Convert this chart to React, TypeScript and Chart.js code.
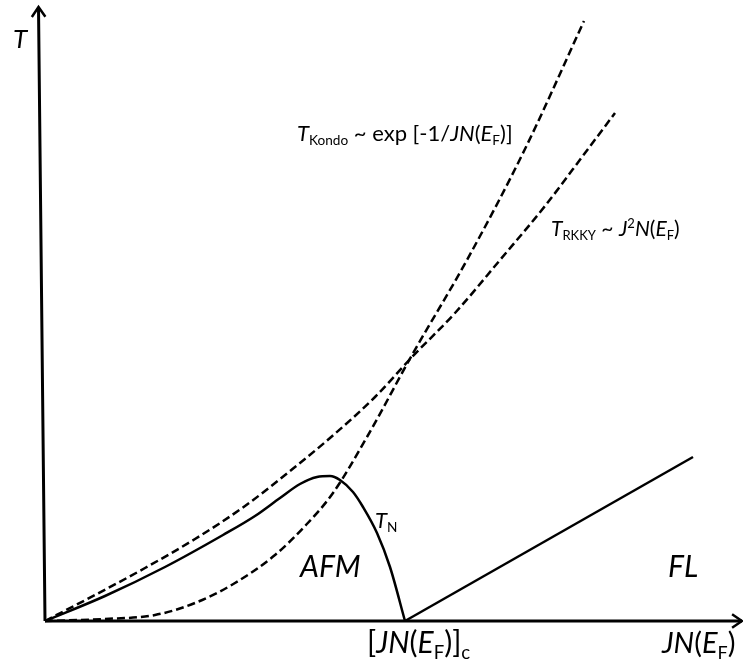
import React, { useEffect, useRef } from "react";
import { Chart, registerables } from "chart.js";

Chart.register(...registerables);

// Coupling strength JN(E_F) (arbitrary units) and temperature scales
const kondoX = [0, 0.6, 1.1, 1.5, 1.9, 2.3, 2.6, 2.88, 3.22, 3.67, 4.22, 4.8, 5.39];
const kondoY = [0, 0.02, 0.06, 0.18, 0.38, 0.66, 0.95, 1.28, 1.84, 2.66, 3.61, 4.72, 6.0];

const rkkyX = [0, 0.5, 1.0, 1.5, 2.0, 2.5, 2.85, 3.3, 3.67, 4.1, 4.55, 5.0, 5.4, 5.7];
const rkkyY = [0, 0.26, 0.53, 0.82, 1.15, 1.54, 1.83, 2.24, 2.64, 3.08, 3.61, 4.15, 4.68, 5.08];

const neelX = [0, 0.6, 1.2, 1.78, 2.1, 2.35, 2.55, 2.72, 2.85, 2.95, 3.08, 3.18, 3.32, 3.45, 3.6];
const neelY = [0, 0.25, 0.54, 0.86, 1.05, 1.23, 1.37, 1.44, 1.45, 1.41, 1.29, 1.14, 0.88, 0.54, 0];

const fermiX = [3.6, 6.48];
const fermiY = [0, 1.64];

// Axis extents (data units)
const X_MIN = -0.45;
const X_MAX = 6.98;
const Y_MIN = -0.5;
const Y_MAX = 6.21;
const X_ARROW = 6.97;
const Y_ARROW = 6.14;
const Y_ARROW_LEAN = -0.065;

const FONT = "Lato, 'Open Sans', sans-serif";

type Seg = { t: string; i?: boolean; sub?: boolean; sup?: boolean };
type Label = { x: number; y: number; size: number; segs: Seg[] };

const labels: Label[] = [
  { x: -0.32, y: 5.73, size: 26, segs: [{ t: "T", i: true }] },
  {
    x: 2.52,
    y: 4.8,
    size: 22,
    segs: [
      { t: "T", i: true },
      { t: "Kondo", sub: true },
      { t: " ~ exp [-1/" },
      { t: "JN", i: true },
      { t: "(" },
      { t: "E", i: true },
      { t: "F", sub: true },
      { t: ")]" },
    ],
  },
  {
    x: 5.06,
    y: 3.85,
    size: 21,
    segs: [
      { t: "T", i: true },
      { t: "RKKY", sub: true },
      { t: " ~ " },
      { t: "J", i: true },
      { t: "2", sup: true },
      { t: "N", i: true },
      { t: "(" },
      { t: "E", i: true },
      { t: "F", sub: true },
      { t: ")" },
    ],
  },
  { x: 3.3, y: 0.93, size: 22, segs: [{ t: "T", i: true }, { t: "N", sub: true }] },
  { x: 2.55, y: 0.44, size: 30, segs: [{ t: "AFM", i: true }] },
  { x: 6.23, y: 0.44, size: 30, segs: [{ t: "FL", i: true }] },
  {
    x: 3.22,
    y: -0.32,
    size: 30,
    segs: [
      { t: "[" },
      { t: "JN", i: true },
      { t: "(" },
      { t: "E", i: true },
      { t: "F", sub: true },
      { t: ")]" },
      { t: "c", sub: true },
    ],
  },
  {
    x: 6.17,
    y: -0.32,
    size: 29,
    segs: [
      { t: "JN", i: true },
      { t: "(" },
      { t: "E", i: true },
      { t: "F", sub: true },
      { t: ")" },
    ],
  },
];

const pts = (xs: number[], ys: number[]) => xs.map((x, k) => ({ x, y: ys[k] }));

function drawRich(ctx: CanvasRenderingContext2D, segs: Seg[], x: number, y: number, size: number) {
  let cx = x;
  for (const s of segs) {
    const fs = s.sub || s.sup ? size * 0.62 : size;
    ctx.font = `${s.i ? "italic " : ""}${fs}px ${FONT}`;
    const dy = s.sub ? size * 0.2 : s.sup ? -size * 0.36 : 0;
    ctx.fillText(s.t, cx, y + dy);
    cx += ctx.measureText(s.t).width;
  }
}

function arrowHead(ctx: CanvasRenderingContext2D, tx: number, ty: number, ang: number, len: number) {
  const spread = 0.6;
  ctx.beginPath();
  ctx.moveTo(tx - len * Math.cos(ang - spread), ty - len * Math.sin(ang - spread));
  ctx.lineTo(tx, ty);
  ctx.lineTo(tx - len * Math.cos(ang + spread), ty - len * Math.sin(ang + spread));
  ctx.stroke();
}

const diagramPlugin = {
  id: "diagramDecor",
  beforeDatasetsDraw(chart: any) {
    const { ctx, scales } = chart;
    const sx = scales.x;
    const sy = scales.y;
    const ox = sx.getPixelForValue(0);
    const oy = sy.getPixelForValue(0);
    const xt = sx.getPixelForValue(X_ARROW);
    const ytx = sx.getPixelForValue(Y_ARROW_LEAN);
    const yty = sy.getPixelForValue(Y_ARROW);
    ctx.save();
    ctx.strokeStyle = "#000";
    ctx.lineWidth = 3;
    ctx.lineCap = "butt";
    ctx.beginPath();
    ctx.moveTo(ox, oy);
    ctx.lineTo(xt, oy);
    ctx.moveTo(ox, oy);
    ctx.lineTo(ytx, yty);
    ctx.stroke();
    ctx.lineWidth = 2.5;
    ctx.lineJoin = "miter";
    arrowHead(ctx, xt, oy, 0, 12);
    arrowHead(ctx, ytx, yty, Math.atan2(yty - oy, ytx - ox), 12);
    ctx.restore();
  },
  afterDatasetsDraw(chart: any) {
    const { ctx, scales } = chart;
    ctx.save();
    ctx.fillStyle = "#000";
    ctx.textBaseline = "alphabetic";
    ctx.textAlign = "left";
    for (const l of labels) {
      drawRich(ctx, l.segs, scales.x.getPixelForValue(l.x), scales.y.getPixelForValue(l.y), l.size);
    }
    ctx.restore();
  },
};

export default function App() {
  const ref = useRef<HTMLCanvasElement | null>(null);

  useEffect(() => {
    if (!ref.current) return;
    const line = (data: { x: number; y: number }[], dashed: boolean) => ({
      data,
      showLine: true,
      borderColor: "#000",
      borderWidth: 2.5,
      borderDash: dashed ? [8, 4] : [],
      pointRadius: 0,
      fill: false,
      cubicInterpolationMode: "monotone" as const,
    });
    const chart = new Chart(ref.current, {
      type: "scatter",
      data: {
        datasets: [
          line(pts(kondoX, kondoY), true),
          line(pts(rkkyX, rkkyY), true),
          line(pts(neelX, neelY), false),
          line(pts(fermiX, fermiY), false),
        ],
      },
      options: {
        animation: false,
        responsive: false,
        maintainAspectRatio: false,
        layout: { padding: 0 },
        plugins: { legend: { display: false }, tooltip: { enabled: false } },
        scales: {
          x: { type: "linear", min: X_MIN, max: X_MAX, display: false },
          y: { type: "linear", min: Y_MIN, max: Y_MAX, display: false },
        },
      },
      plugins: [diagramPlugin],
    });
    return () => chart.destroy();
  }, []);

  return (
    <div style={{ position: "absolute", left: 0, top: 0, width: 743, height: 671, background: "#fff" }}>
      <canvas ref={ref} width={743} height={671} style={{ display: "block" }} />
    </div>
  );
}
